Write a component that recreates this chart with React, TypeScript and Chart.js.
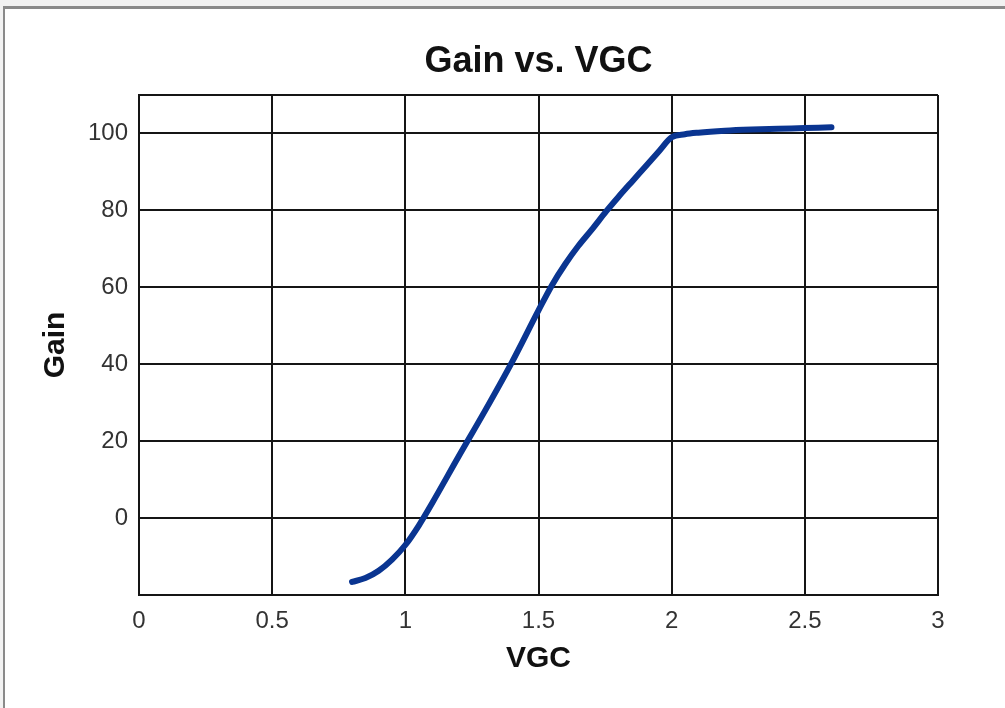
import React, { useEffect, useRef } from "react";
import { Chart, registerables } from "chart.js";

Chart.register(...registerables);

const vgc = [0.8, 0.85, 0.9, 0.95, 1.0, 1.05, 1.1, 1.2, 1.3, 1.4, 1.5, 1.55, 1.6, 1.65, 1.7, 1.757, 1.8, 1.855, 1.9, 1.95, 2.0, 2.05, 2.1, 2.2, 2.3, 2.4, 2.5, 2.6];
const gain = [-16.6, -15.6, -13.7, -10.8, -7, -2, 3.8, 16, 28, 40.5, 54, 60.5, 66, 70.8, 75, 80, 83.5, 87.8, 91.3, 95.2, 99, 99.8, 100.2, 100.7, 101, 101.2, 101.4, 101.6];
const xTickValues = [0, 0.5, 1, 1.5, 2, 2.5, 3];
const yTickValues = [0, 20, 40, 60, 80, 100];
const yMin = -20;
const yMax = 110;

const FONT = "'Liberation Sans', Arial, Helvetica, sans-serif";

export default function App() {
  const ref = useRef<HTMLCanvasElement>(null);

  useEffect(() => {
    const canvas = ref.current;
    if (!canvas) return;
    const chart = new Chart(canvas, {
      type: "line",
      data: {
        datasets: [
          {
            label: "Gain",
            data: vgc.map((x, i) => ({ x, y: gain[i] })),
            borderColor: "#0a3591",
            borderWidth: 6,
            pointRadius: 0,
            cubicInterpolationMode: "monotone",
            borderCapStyle: "round",
            borderJoinStyle: "round",
            fill: false,
          },
        ],
      },
      options: {
        responsive: false,
        animation: false,
        layout: { padding: { left: 0, right: 67, top: 0, bottom: 0 } },
        plugins: {
          legend: { display: false },
          tooltip: { enabled: false },
          title: {
            display: true,
            text: "Gain vs. VGC",
            fullSize: false,
            color: "#111",
            font: { family: FONT, size: 36, weight: "bold", lineHeight: 1 },
            padding: { top: 44, bottom: 15 },
          },
        },
        scales: {
          x: {
            type: "linear",
            min: 0,
            max: 3,
            afterBuildTicks: (scale: any) => {
              scale.ticks = xTickValues.map((v) => ({ value: v }));
            },
            afterFit: (scale: any) => {
              scale.height = 113;
            },
            grid: { color: "#151515", lineWidth: 2, drawTicks: false },
            border: { color: "#151515", width: 2 },
            ticks: {
              color: "#333",
              padding: 12,
              font: { family: FONT, size: 24 },
              callback: (v: any) => String(v),
            },
            title: {
              display: true,
              text: "VGC",
              color: "#111",
              font: { family: FONT, size: 30, weight: "bold", lineHeight: 1.2 },
              padding: { top: 0, bottom: 31 },
            },
          },
          y: {
            type: "linear",
            min: yMin,
            max: yMax,
            afterBuildTicks: (scale: any) => {
              scale.ticks = [yMin, ...yTickValues, yMax].map((v) => ({ value: v }));
            },
            afterFit: (scale: any) => {
              scale.width = 139;
            },
            grid: { color: "#151515", lineWidth: 2, drawTicks: false },
            border: { color: "#151515", width: 2 },
            ticks: {
              color: "#333",
              padding: 11,
              font: { family: FONT, size: 24 },
              callback: (v: any) => (yTickValues.includes(v) ? String(v) : ""),
            },
            title: {
              display: true,
              text: "Gain",
              color: "#111",
              font: { family: FONT, size: 30, weight: "bold", lineHeight: 1.2 },
              padding: { top: 38, bottom: 0 },
            },
          },
        },
      },
    });
    return () => chart.destroy();
  }, []);

  return (
    <div style={{ position: "fixed", left: 0, top: 0, width: 1005, height: 708, background: "#f2f2f2", overflow: "hidden" }}>
      <div
        style={{
          position: "absolute",
          left: 3,
          top: 6,
          right: 0,
          bottom: 0,
          background: "#fff",
          borderTop: "3px solid #8a8a8a",
          borderLeft: "2px solid #8a8a8a",
        }}
      />
      <canvas ref={ref} width={1005} height={708} style={{ position: "absolute", left: 0, top: 0 }} />
    </div>
  );
}
